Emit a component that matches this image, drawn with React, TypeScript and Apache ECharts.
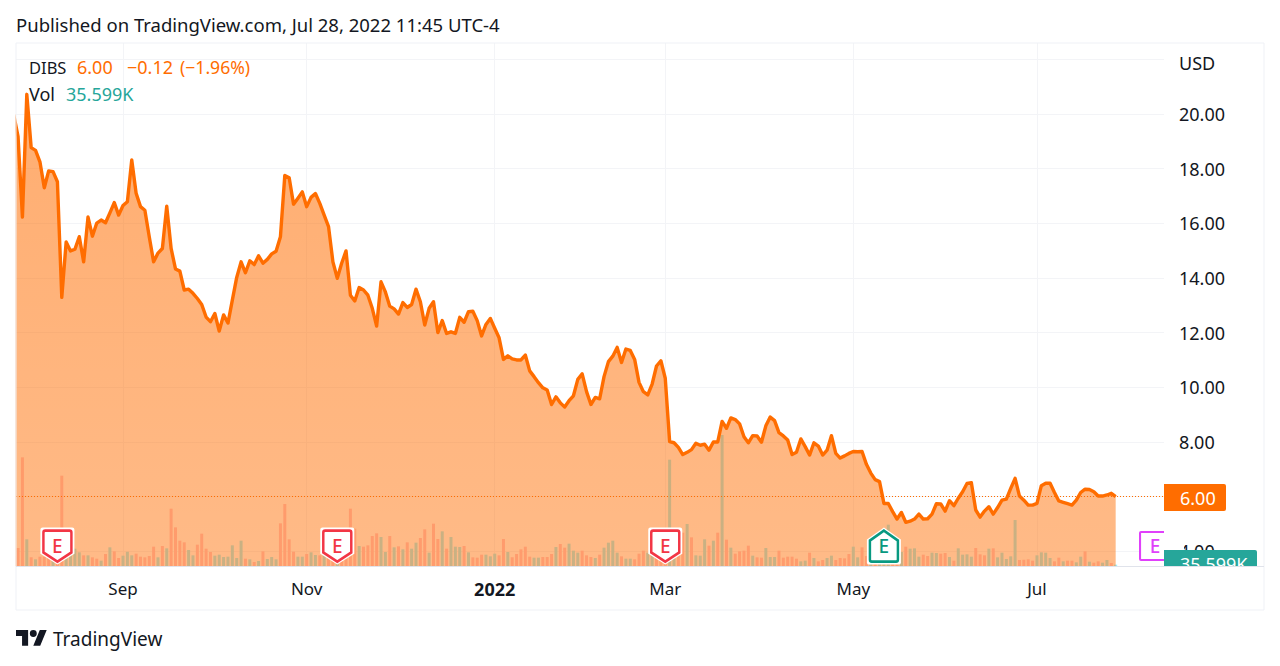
import React, { useEffect, useRef } from "react";
import * as echarts from "echarts";

const prices = [
  19.98, 19.17, 16.23, 20.72, 18.77, 18.67, 18.25, 17.3, 17.92, 17.89,
  17.52, 13.29, 15.32, 14.99, 15.05, 15.51, 14.59, 16.23, 15.53, 16.01,
  16.12, 16.02, 16.38, 16.76, 16.3, 16.65, 16.79, 18.32, 17.1, 16.61,
  16.48, 15.51, 14.59, 14.91, 15.08, 16.63, 15.08, 14.33, 14.25, 13.56,
  13.59, 13.44, 13.25, 13.03, 12.57, 12.4, 12.7, 12.06, 12.65, 12.35,
  13.19, 14.02, 14.59, 14.19, 14.63, 14.49, 14.81, 14.54, 14.68, 14.88,
  14.98, 15.51, 17.75, 17.67, 16.7, 16.92, 17.15, 16.61, 16.95, 17.09,
  16.73, 16.3, 15.88, 14.59, 13.99, 14.54, 14.99, 13.37, 13.16, 13.65,
  13.56, 13.37, 12.89, 12.24, 13.86, 13.49, 12.97, 12.87, 12.68, 13.1,
  12.92, 13.03, 13.59, 13.13, 12.28, 12.89, 13.13, 12.0, 12.44, 11.97,
  12.03, 11.97, 12.56, 12.38, 12.77, 12.78, 12.44, 11.88, 12.3, 12.52,
  12.16, 11.81, 11.02, 11.15, 11.04, 11.0, 11.0, 11.18, 10.6, 10.39,
  10.17, 9.98, 9.9, 9.37, 9.65, 9.43, 9.28, 9.51, 9.69, 10.29,
  10.49, 9.84, 9.37, 9.63, 9.58, 10.39, 10.94, 11.14, 11.46, 10.91,
  11.4, 11.35, 11.02, 10.18, 9.84, 9.72, 10.12, 10.78, 10.97, 10.33,
  8.01, 7.97, 7.8, 7.54, 7.62, 7.72, 7.95, 7.88, 7.92, 7.7,
  8.0, 8.0, 8.75, 8.5, 8.88, 8.82, 8.66, 8.19, 7.97, 8.23,
  8.22, 7.99, 8.59, 8.91, 8.78, 8.34, 8.22, 8.07, 7.54, 7.62,
  8.11, 7.83, 7.52, 7.97, 7.85, 7.52, 7.7, 8.23, 7.58, 7.41,
  7.49, 7.58, 7.65, 7.64, 7.65, 7.18, 6.86, 6.62, 6.55, 5.75,
  5.75, 5.45, 5.18, 5.42, 5.06, 5.1, 5.18, 5.36, 5.18, 5.19,
  5.36, 5.74, 5.73, 5.47, 5.85, 5.67, 5.94, 6.18, 6.48, 6.51,
  5.51, 5.25, 5.47, 5.63, 5.36, 5.6, 5.87, 5.91, 6.3, 6.67,
  6.02, 5.87, 5.69, 5.69, 5.75, 6.4, 6.49, 6.49, 6.15, 5.84,
  5.79, 5.74, 5.69, 5.87, 6.15, 6.27, 6.26, 6.18, 6.02, 6.02,
  6.06, 6.12, 6.0,
];

// Volume, thousands of shares
const volumes = [
  300, 540, 3260, 800, 260, 200, 280, 280, 300, 300,
  300, 2710, 300, 360, 520, 410, 320, 320, 260, 220,
  160, 360, 560, 440, 240, 310, 430, 320, 370, 280,
  260, 300, 580, 260, 600, 530, 1720, 1160, 760, 710,
  480, 320, 640, 970, 520, 420, 310, 340, 270, 280,
  620, 240, 760, 220, 200, 120, 150, 440, 210, 270,
  200, 1280, 1860, 800, 430, 280, 280, 360, 410, 330,
  320, 400, 500, 400, 450, 350, 400, 1720, 1120, 600,
  580, 620, 900, 980, 870, 420, 900, 560, 590, 500,
  710, 520, 700, 840, 1100, 400, 1270, 810, 1040, 520,
  870, 580, 570, 600, 410, 260, 250, 340, 340, 290,
  370, 320, 810, 420, 260, 360, 500, 580, 280, 250,
  250, 270, 270, 360, 570, 660, 550, 670, 460, 400,
  460, 320, 270, 240, 340, 550, 700, 760, 400, 290,
  220, 220, 200, 370, 460, 400, 360, 400, 400, 500,
  3190, 360, 460, 1000, 1260, 860, 320, 310, 800, 610,
  760, 1000, 3930, 790, 550, 370, 440, 460, 610, 310,
  260, 250, 540, 270, 270, 460, 250, 280, 280, 220,
  140, 160, 400, 240, 140, 180, 240, 310, 180, 240,
  230, 360, 580, 260, 560, 300, 300, 300, 350, 300,
  1240, 300, 300, 420, 580, 520, 530, 280, 340, 300,
  400, 390, 370, 390, 270, 160, 530, 340, 350, 280,
  540, 350, 320, 520, 530, 260, 400, 210, 290, 1380,
  180, 190, 200, 160, 320, 410, 400, 240, 140, 250,
  140, 160, 160, 110, 280, 440, 130, 100, 140, 100,
  180, 90, 40,
];

// r = down day, t = up day
const volumeSides = [
  "rrrtrtrrrt", "rrttttrtrr", "trtrrtttrr", "rrrtrtrrrr", "ttrrrrtttt",
  "tttrtrtrtt", "trrrrttrtt", "rtrrtrrrrt", "rrrrttrtrt", "rttrrtrrtr",
  "tttrtrrrtt", "trrtrrrrrt", "trrrtrrttt", "rrrtrttttr", "ttrrrttrrr",
  "ttrrtrtttr", "trtrtrrrrt", "rrtttrrrrr", "ttrtrrttrr", "rrttrrtrtt",
  "trrtrtttrr", "ttrrtrtttt", "rrrtrttttt", "rrrrttttrr", "trrttrtrrt",
  "trt",
].join("");

const monthTicks = [25, 67, 110, 149, 192, 234];
const monthLabels = ["Sep", "Nov", "2022", "Mar", "May", "Jul"];
const priceTicks = [4, 6, 8, 10, 12, 14, 16, 18, 20];
const priceGrid = [...priceTicks, 22];
const lastPrice = 6.0;

const earningsMissed = [10, 74, 149];
const earningsBeat = [199];
const earningsNext = [261];
const earningsLevel = 4.19;

const ORANGE = "#FF6D00";
const TEAL = "#26A69A";
const INK = "#131722";
const GRID = "#F3F4F7";
const BORDER = "#EFF1F6";
const FONT = "'Noto Sans', sans-serif";

const SHIELD_DOWN = "path://M2 0H29Q31 0 31 2V24L15.5 34L0 24V2Q0 0 2 0Z";
const SHIELD_UP = "path://M15.5 0L31 11V32Q31 34 29 34H2Q0 34 0 32V11Z";
const TAG_RECT = "path://M1 0H30Q31 0 31 1V28Q31 29 30 29H1Q0 29 0 28V1Q0 0 1 0Z";
const LOGO =
  "M14 22H7V11H0V4h14v18zM28 22h-8l7.5-18h8L28 22zM24 8a4 4 0 1 1-8 0 4 4 0 0 1 8 0z";

const txt = (x: number, y: number, text: string, fill = INK, fontSize = 18, align = "left") => ({
  type: "text",
  x,
  y,
  z: 100,
  style: { text, fill, fontSize, fontFamily: FONT, align, verticalAlign: "middle" },
});

const earningsSeries = (
  indices: number[],
  symbol: string,
  color: string,
  size: number[],
  borderWidth = 2.6,
  halo = true,
) => {
  const data = indices.map((i) => [i, earningsLevel]);
  const out: any[] = [];
  if (halo) {
    out.push({
      type: "scatter",
      xAxisIndex: 0,
      yAxisIndex: 0,
      z: 5,
      silent: true,
      symbol,
      symbolSize: [size[0] + 6, size[1] + 6],
      itemStyle: { color: "#FFFFFF", opacity: 1 },
      data,
    });
  }
  out.push({
    type: "scatter",
    xAxisIndex: 0,
    yAxisIndex: 0,
    z: 6,
    silent: true,
    symbol,
    symbolSize: size,
    itemStyle: { color: "#FFFFFF", borderColor: color, borderWidth, opacity: 1 },
    label: {
      show: true,
      position: "inside",
      formatter: "E",
      color,
      fontSize: 19,
      fontWeight: 500,
      fontFamily: FONT,
    },
    data,
  });
  return out;
};

export default function App() {
  const ref = useRef<HTMLDivElement>(null);

  useEffect(() => {
    if (!ref.current) return;
    echarts.graphic.registerShape("tvlogo", echarts.graphic.extendPath(LOGO as any, {}));
    const chart = echarts.init(ref.current, null, { renderer: "svg" });
    chart.setOption({
      animation: false,
      backgroundColor: "#FFFFFF",
      grid: { left: 16, right: 116, top: 43, bottom: 100, containLabel: false },
      xAxis: {
        type: "value",
        min: 0.53,
        max: 263.05,
        axisLine: { show: true, onZero: false, lineStyle: { color: "#E0E3EB", width: 1 } },
        axisTick: { show: false, customValues: monthTicks },
        axisLabel: {
          customValues: monthTicks,
          margin: 14,
          color: INK,
          fontSize: 17,
          fontFamily: FONT,
          formatter: (v: number) => {
            const s = monthLabels[monthTicks.indexOf(v)] ?? "";
            return s === "2022" ? `{b|${s}}` : s;
          },
          rich: { b: { fontWeight: 700, fontSize: 18, color: INK, fontFamily: FONT } },
        },
        splitLine: { show: true, lineStyle: { color: GRID, width: 1 } },
      },
      yAxis: [
        {
          type: "value",
          position: "right",
          min: 3.461,
          max: 22.598,
          axisLine: { show: false },
          axisTick: { show: false, customValues: priceGrid },
          axisLabel: {
            customValues: priceTicks,
            margin: 15,
            color: INK,
            fontSize: 18,
            fontFamily: FONT,
            formatter: (v: number) => v.toFixed(2),
          },
          splitLine: { show: true, lineStyle: { color: GRID, width: 1 } },
        },
        {
          type: "value",
          min: 0,
          max: 15690,
          show: false,
          splitLine: { show: false },
        },
      ],
      series: [
        {
          type: "bar",
          xAxisIndex: 0,
          yAxisIndex: 1,
          z: 1,
          barWidth: 3,
          silent: true,
          data: volumes.map((v, i) => ({
            value: [i, v],
            itemStyle: { color: volumeSides[i] === "r" ? "#FFC6CF" : "#99EEF9" },
          })),
        },
        {
          type: "line",
          xAxisIndex: 0,
          yAxisIndex: 0,
          z: 2,
          silent: true,
          showSymbol: false,
          symbol: "none",
          clip: true,
          lineStyle: { color: ORANGE, width: 3.4, join: "round" },
          areaStyle: {
            origin: "start",
            opacity: 1,
            color: {
              type: "linear",
              x: 0,
              y: 0,
              x2: 0,
              y2: 1,
              colorStops: [
                { offset: 0, color: "rgba(255,109,0,0.56)" },
                { offset: 1, color: "rgba(255,109,0,0.47)" },
              ],
            },
          },
          markLine: {
            silent: true,
            symbol: "none",
            label: { show: false },
            lineStyle: { color: ORANGE, type: [1, 2], width: 1 },
            data: [{ yAxis: lastPrice }],
          },
          data: prices.map((p, i) => [i, p]),
        },
        ...earningsSeries(earningsMissed, SHIELD_DOWN, "#F23645", [28, 31]),
        ...earningsSeries(earningsBeat, SHIELD_UP, "#089981", [28, 31]),
        ...earningsSeries(earningsNext, TAG_RECT, "#E040FB", [30, 28], 2, false),
      ],
      graphic: [
        {
          type: "rect",
          z: 80,
          shape: { x: 0, y: 43, width: 15.5, height: 530 },
          style: { fill: "#FFFFFF" },
        },
        {
          type: "rect",
          z: 80,
          shape: { x: 1164, y: 525, width: 20, height: 41 },
          style: { fill: "#FFFFFF" },
        },
        txt(16, 24, "Published on TradingView.com, Jul 28, 2022 11:45 UTC-4", INK, 18.5),
        {
          type: "rect",
          z: 90,
          shape: { x: 16, y: 43, width: 1248, height: 567 },
          style: { fill: "transparent", stroke: BORDER, lineWidth: 1 },
        },
        txt(29, 67, "DIBS", INK, 16.5),
        txt(77, 67, "6.00", ORANGE),
        txt(127, 67, "\u22120.12", ORANGE),
        txt(180, 67, "(\u22121.96%)", ORANGE, 17.6),
        txt(29, 93.5, "Vol"),
        txt(66, 93.5, "35.599K", TEAL),
        txt(1179, 63, "USD"),
        {
          type: "rect",
          z: 100,
          shape: { x: 1164, y: 484, width: 62, height: 27, r: [0, 2, 2, 0] },
          style: { fill: ORANGE },
        },
        txt(1180, 497.5, "6.00", "#FFFFFF"),
        {
          type: "rect",
          z: 100,
          shape: { x: 1164, y: 550, width: 93, height: 20, r: [0, 2, 0, 0] },
          style: { fill: TEAL },
        },
        txt(1180, 563.5, "35.599K", "#FFFFFF"),
        {
          type: "rect",
          z: 101,
          shape: { x: 1164, y: 566, width: 99, height: 12 },
          style: { fill: "#FFFFFF" },
        },
        {
          type: "line",
          z: 102,
          shape: { x1: 16, y1: 566.5, x2: 1264, y2: 566.5 },
          style: { stroke: "#E0E3EB", lineWidth: 1 },
        },
        {
          type: "tvlogo",
          z: 100,
          x: 16,
          y: 626.6,
          scaleX: 0.865,
          scaleY: 0.865,
          style: { fill: INK },
        },
        txt(53, 638.5, "TradingView", INK, 19),
      ],
    });
    return () => chart.dispose();
  }, []);

  return (
    <div
      ref={ref}
      style={{ position: "fixed", left: 0, top: 0, width: 1280, height: 666 }}
    />
  );
}
